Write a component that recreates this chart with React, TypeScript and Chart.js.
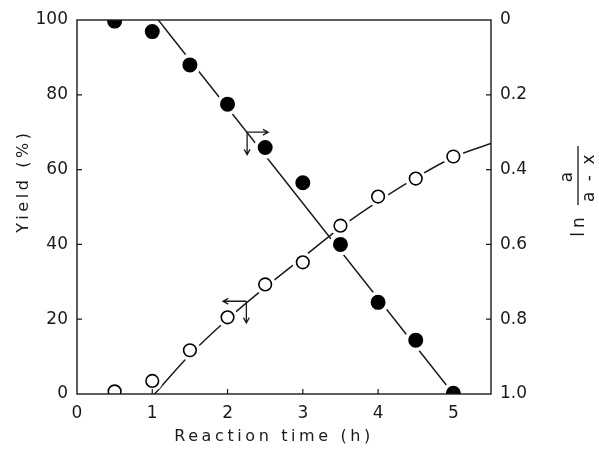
import React, { useEffect, useRef } from "react";
import { Chart, registerables } from "chart.js";

Chart.register(...registerables);

// ---- data ----
const reactionTime = [0.5, 1, 1.5, 2, 2.5, 3, 3.5, 4, 4.5, 5];
const yieldOpen = [0.7, 3.5, 11.7, 20.5, 29.3, 35.2, 45, 52.8, 57.6, 63.5];
const lnFilled = [0.003, 0.031, 0.12, 0.225, 0.341, 0.435, 0.6, 0.755, 0.856, 0.998];

const fitLineX = [1.08, 5.0];
const fitLineY = [0, 1.0];

const fitCurveX = [1.03, 1.5, 2, 2.5, 3, 3.5, 4, 4.5, 5, 5.5];
const fitCurveY = [0, 10.5, 20, 28.5, 36.5, 44.5, 51.5, 57.8, 63.3, 67];

const xTicks = [0, 1, 2, 3, 4, 5];
const yTicks = [0, 20, 40, 60, 80, 100];
const y2Ticks = [0, 0.2, 0.4, 0.6, 0.8, 1.0];
const y2TickLabels = ["0", "0.2", "0.4", "0.6", "0.8", "1.0"];

// arrows: origin (time, yield) and ends (time, yield)
const arrowOrigins = [
  [2.26, 70],
  [2.25, 24.8],
];
const arrowHorizEnds = [2.54, 1.94];
const arrowVertEnds = [64, 19];

const FONT = "'DejaVu Sans', sans-serif";
const INK = "#1a1a1a";

const pts = (xs: number[], ys: number[]) => xs.map((x, i) => ({ x, y: ys[i] }));

const decorPlugin = {
  id: "decor",
  afterDatasetsDraw(chart: any) {
    const { ctx, chartArea: a, scales } = chart;
    const xs = scales.x, ys = scales.y, y2 = scales.y2;
    ctx.save();
    ctx.strokeStyle = INK;
    ctx.lineWidth = 1.4;
    ctx.strokeRect(a.left, a.top, a.right - a.left, a.bottom - a.top);
    // inward ticks
    ctx.lineWidth = 1.2;
    ctx.beginPath();
    xTicks.slice(1).forEach((v) => {
      const px = xs.getPixelForValue(v);
      ctx.moveTo(px, a.bottom);
      ctx.lineTo(px, a.bottom - 5);
    });
    yTicks.slice(1, -1).forEach((v) => {
      const py = ys.getPixelForValue(v);
      ctx.moveTo(a.left, py);
      ctx.lineTo(a.left + 5, py);
    });
    y2Ticks.slice(1, -1).forEach((v) => {
      const py = y2.getPixelForValue(v);
      ctx.moveTo(a.right, py);
      ctx.lineTo(a.right - 5, py);
    });
    ctx.stroke();

    // arrows
    ctx.lineWidth = 1.3;
    const head = (x1: number, y1: number, x2: number, y2p: number) => {
      const ang = Math.atan2(y2p - y1, x2 - x1);
      const L = 6, w = 0.5;
      ctx.beginPath();
      ctx.moveTo(x1, y1);
      ctx.lineTo(x2, y2p);
      ctx.moveTo(x2 - L * Math.cos(ang - w), y2p - L * Math.sin(ang - w));
      ctx.lineTo(x2, y2p);
      ctx.lineTo(x2 - L * Math.cos(ang + w), y2p - L * Math.sin(ang + w));
      ctx.stroke();
    };
    arrowOrigins.forEach(([t, yv], i) => {
      const ox = xs.getPixelForValue(t), oy = ys.getPixelForValue(yv);
      head(ox, oy, xs.getPixelForValue(arrowHorizEnds[i]), oy);
      head(ox, oy, ox, ys.getPixelForValue(arrowVertEnds[i]));
    });

    // titles
    ctx.fillStyle = INK;
    ctx.font = `16px ${FONT}`;
    (ctx as any).letterSpacing = "3.6px";
    ctx.textAlign = "center";
    ctx.textBaseline = "middle";
    ctx.fillText("Reaction time (h)", 274, 437);

    ctx.save();
    ctx.translate(24, 181);
    ctx.rotate(-Math.PI / 2);
    ctx.fillText("Yield (%)", 0, 0);
    ctx.restore();

    // right title: ln a/(a-x)
    ctx.font = `17px ${FONT}`;
    ctx.save();
    ctx.translate(580, 225);
    ctx.rotate(-Math.PI / 2);
    (ctx as any).letterSpacing = "4px";
    ctx.fillText("ln", 0, 0);
    ctx.restore();

    ctx.beginPath();
    ctx.lineWidth = 1.3;
    ctx.moveTo(578, 146);
    ctx.lineTo(578, 205);
    ctx.stroke();

    ctx.save();
    ctx.translate(568, 177);
    ctx.rotate(-Math.PI / 2);
    (ctx as any).letterSpacing = "0px";
    ctx.fillText("a", 0, 0);
    ctx.restore();

    ctx.save();
    ctx.translate(590, 177);
    ctx.rotate(-Math.PI / 2);
    (ctx as any).letterSpacing = "2.5px";
    ctx.fillText("a - x", 0, 0);
    ctx.restore();

    ctx.restore();
  },
};

export default function App() {
  const ref = useRef<HTMLCanvasElement>(null);
  useEffect(() => {
    document.body.style.margin = "0";
    const chart = new Chart(ref.current!, {
      type: "scatter",
      data: {
        datasets: [
          {
            label: "fit ln",
            data: pts(fitLineX, fitLineY),
            yAxisID: "y2",
            showLine: true,
            borderColor: INK,
            borderWidth: 1.5,
            pointRadius: 0,
            clip: 0,
            order: 3,
          },
          {
            label: "fit yield",
            data: pts(fitCurveX, fitCurveY),
            yAxisID: "y",
            showLine: true,
            borderColor: INK,
            borderWidth: 1.5,
            pointRadius: 0,
            cubicInterpolationMode: "monotone",
            clip: 0,
            order: 3,
          },
          {
            label: "halo yield",
            data: pts(reactionTime, yieldOpen),
            yAxisID: "y",
            pointRadius: 10.5,
            backgroundColor: "#ffffff",
            borderColor: "#ffffff",
            pointBackgroundColor: "#ffffff",
            pointBorderColor: "#ffffff",
            pointBorderWidth: 0,
            clip: 0,
            order: 2,
          },
          {
            label: "ln a/(a-x)",
            data: pts(reactionTime, lnFilled),
            yAxisID: "y2",
            pointRadius: 9.3,
            backgroundColor: "#000000",
            pointBackgroundColor: "#000000",
            pointBorderColor: "#ffffff",
            pointBorderWidth: 3.6,
            clip: 0,
            order: 1,
          },
          {
            label: "Yield",
            data: pts(reactionTime, yieldOpen),
            yAxisID: "y",
            pointRadius: 6.3,
            backgroundColor: "#ffffff",
            pointBackgroundColor: "#ffffff",
            pointBorderColor: "#000000",
            pointBorderWidth: 1.6,
            clip: 0,
            order: 1,
          },
        ],
      },
      options: {
        animation: false,
        responsive: false,
        events: [],
        layout: { padding: { top: 20, left: 0, right: 0, bottom: 0 } },
        plugins: { legend: { display: false }, tooltip: { enabled: false } },
        scales: {
          x: {
            type: "linear",
            min: 0,
            max: 5.5,
            afterBuildTicks: (s: any) => {
              s.ticks = xTicks.map((v) => ({ value: v }));
            },
            afterFit: (s: any) => {
              s.height = 56;
            },
            grid: { display: false, drawTicks: false },
            border: { display: false },
            ticks: {
              padding: 9,
              color: INK,
              font: { family: FONT, size: 17 },
              maxRotation: 0,
              callback: (v: any) => String(v),
            },
          },
          y: {
            type: "linear",
            position: "left",
            min: 0,
            max: 100,
            afterBuildTicks: (s: any) => {
              s.ticks = yTicks.map((v) => ({ value: v }));
            },
            afterFit: (s: any) => {
              s.width = 77;
            },
            grid: { display: false, drawTicks: false },
            border: { display: false },
            ticks: {
              padding: 9,
              color: INK,
              font: { family: FONT, size: 17 },
              callback: (v: any) => String(v),
            },
          },
          y2: {
            type: "linear",
            position: "right",
            min: 0,
            max: 1,
            reverse: true,
            afterBuildTicks: (s: any) => {
              s.ticks = y2Ticks.map((v) => ({ value: v }));
            },
            afterFit: (s: any) => {
              s.width = 108;
            },
            grid: { display: false, drawTicks: false },
            border: { display: false },
            ticks: {
              padding: 9,
              color: INK,
              font: { family: FONT, size: 17 },
              callback: (_v: any, i: number) => y2TickLabels[i],
            },
          },
        },
      },
      plugins: [decorPlugin],
    } as any);
    return () => chart.destroy();
  }, []);
  return (
    <div style={{ position: "absolute", left: 0, top: 0, width: 599, height: 450, background: "#fff" }}>
      <canvas ref={ref} width={599} height={450} />
    </div>
  );
}
